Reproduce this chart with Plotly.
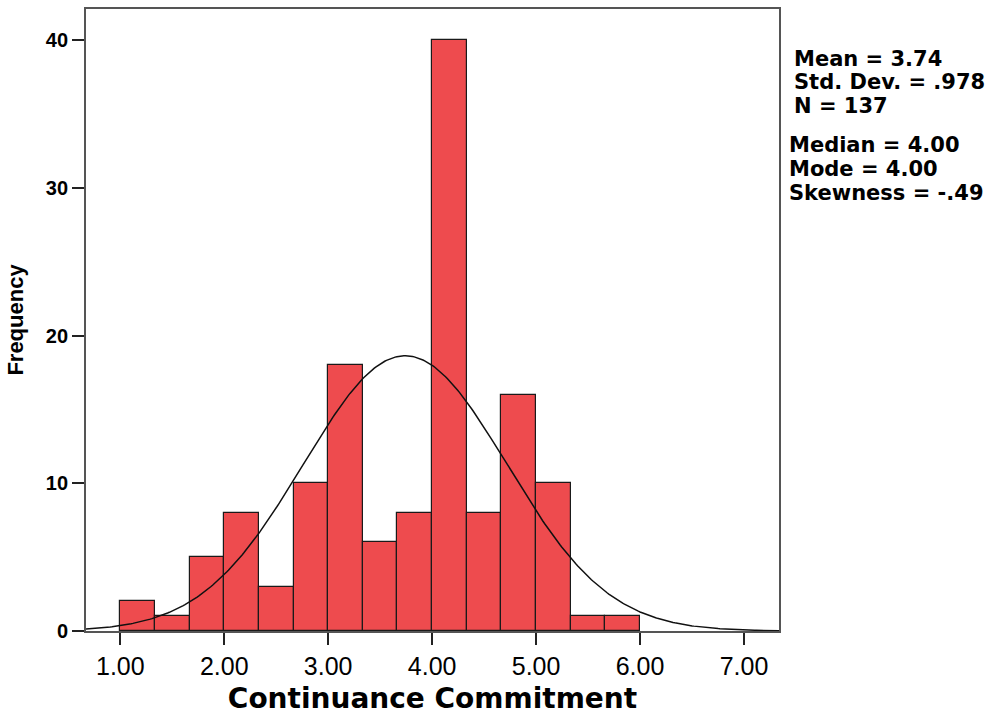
import numpy as np
import plotly.graph_objects as go

bin_left = [1.0 + i / 3 for i in range(15)]
counts = [2, 1, 5, 8, 3, 10, 18, 6, 8, 40, 8, 16, 10, 1, 1]
bin_width = 1 / 3
mean, sd, n = 3.74, 0.978, 137
stats1 = ["Mean = 3.74", "Std. Dev. = .978", "N = 137"]
stats2 = ["Median = 4.00", "Mode = 4.00", "Skewness = -.49"]
x_ticks = [1, 2, 3, 4, 5, 6, 7]
x_ticktext = ["1.00", "2.00", "3.00", "4.00", "5.00", "6.00", "7.00"]
y_ticks = [0, 10, 20, 30, 40]

centers = [b + bin_width / 2 for b in bin_left]

fig = go.Figure()
fig.add_trace(go.Bar(
    x=centers, y=counts, width=bin_width,
    marker=dict(color="#EE4B4E", line=dict(color="#1a1a1a", width=1.2)),
    showlegend=False, hoverinfo="skip",
))

xs = np.linspace(0.67, 7.337, 400)
ys = n * bin_width / (sd * np.sqrt(2 * np.pi)) * np.exp(-0.5 * ((xs - mean) / sd) ** 2)
fig.add_trace(go.Scatter(x=xs, y=ys, mode="lines",
                         line=dict(color="#111111", width=1.5),
                         showlegend=False, hoverinfo="skip"))

font = "Liberation Sans, Arial, sans-serif"
wide = "DejaVu Sans, Liberation Sans, sans-serif"
fig.update_layout(
    width=996, height=715,
    margin=dict(l=86, r=217, t=9, b=84, autoexpand=False),
    paper_bgcolor="white", plot_bgcolor="white",
    bargap=0,
    font=dict(family=font, color="black"),
    xaxis=dict(range=[0.67, 7.337], tickvals=x_ticks, ticktext=x_ticktext,
               ticks="outside", ticklen=12, tickwidth=1.5, tickcolor="#222",
               showgrid=False, zeroline=False, automargin=False,
               showline=True, linecolor="#555", linewidth=1.8, mirror=True,
               tickfont=dict(size=25, family=font),
               title=dict(text="<b>Continuance Commitment</b>",
                          font=dict(size=28, family=wide), standoff=12)),
    yaxis=dict(range=[0, 42.1], tickvals=y_ticks, ticktext=[f"<b>{v}</b>" for v in y_ticks],
               ticks="outside", ticklen=12, tickwidth=1.5, tickcolor="#222",
               showgrid=False, zeroline=False, automargin=False,
               showline=True, linecolor="#555", linewidth=1.8, mirror=True,
               tickfont=dict(size=20, family=font),
               title=dict(text="<b>Frequency</b>", font=dict(size=22, family=font), standoff=16)),
)

for i, t in enumerate(stats1):
    fig.add_annotation(text=f"<b>{t}</b>", xref="paper", yref="paper",
                       x=(792 - 86) / (779.3 - 86), y=1 - (59 + i * 23.5 - 9) / 622,
                       xanchor="left", yanchor="middle", showarrow=False,
                       font=dict(size=21, family=wide, color="black"))
for i, t in enumerate(stats2):
    fig.add_annotation(text=f"<b>{t}</b>", xref="paper", yref="paper",
                       x=(787 - 86) / (779.3 - 86), y=1 - (145 + i * 24 - 9) / 622,
                       xanchor="left", yanchor="middle", showarrow=False,
                       font=dict(size=21, family=wide, color="black"))

fig.write_html("out.html")
